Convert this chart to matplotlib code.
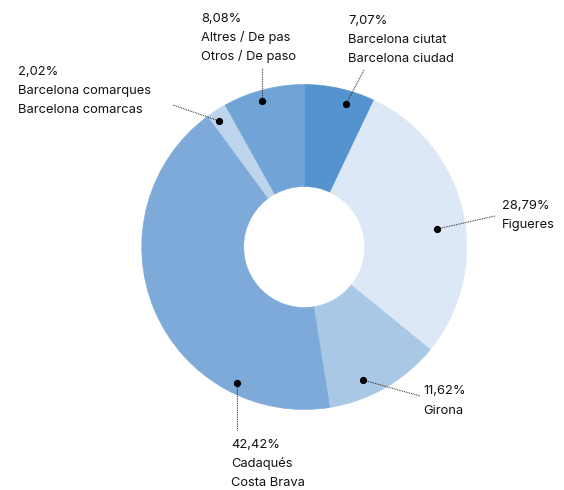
import matplotlib.pyplot as plt

# データ（時計回り、12時の位置から）
labels = ["Barcelona ciutat\nBarcelona ciudad", "Figueres", "Girona",
          "Cadaqués\nCosta Brava", "Barcelona comarques\nBarcelona comarcas",
          "Altres / De pas\nOtros / De paso"]
values = [7.07, 28.79, 11.62, 42.42, 2.02, 8.08]
colors = ["#5593cf", "#dce8f5", "#a9c8e6", "#7eaad9", "#bcd4ec", "#70a4d6"]

# レイアウト（ピクセル座標）: 点, 引き出し線の端, テキスト左端と1行目ベースライン
label_layout = [
    ((346, 104), (364, 70), (348, 23.5)),
    ((437, 229), (495, 216), (502, 208.5)),
    ((363, 380), (420, 396), (423, 394.5)),
    ((237, 383), (237, 430), (231, 447.5)),
    ((219, 121), (173, 105), (18, 74.5)),
    ((262, 101), (262, 68), (201, 21.5)),
]

W, H = 564, 490
CX, CY, R = 304.2, 247.0, 162.5
INNER = 60.5
LINE_STEP = 19.0


def px(x, y):
    """ピクセル座標をデータ座標に変換"""
    return (x - CX) / R, (CY - y) / R


plt.rcParams['font.family'] = ['Inter', 'DejaVu Sans']

fig = plt.figure(figsize=(W / 100, H / 100), dpi=100)
ax = fig.add_axes([0, 0, 1, 1])
ax.pie(values, colors=colors, startangle=90, counterclock=False, radius=1.0,
       wedgeprops=dict(width=1 - INNER / R, linewidth=0.4, antialiased=True))
for w, c in zip(ax.patches, colors):
    w.set_edgecolor(c)

ax.set_xlim(px(0, 0)[0], px(W, 0)[0])
ax.set_ylim(px(0, H)[1], px(0, 0)[1])
ax.set_aspect('equal')
ax.axis('off')

for v, lab, (dot, end, txt) in zip(values, labels, label_layout):
    dx, dy = px(*dot)
    ex, ey = px(*end)
    ax.plot([dx, ex], [dy, ey], color="#333333", lw=0.8, ls=(0, (0.8, 0.8)), zorder=3)
    ax.plot(dx, dy, 'o', color="black", ms=4.2, zorder=4)
    lines = [f"{v:.2f}%".replace('.', ',')] + lab.split('\n')
    for i, line in enumerate(lines):
        tx, ty = px(txt[0], txt[1] + i * LINE_STEP)
        ax.text(tx, ty, line, ha='left', va='baseline', fontsize=9.3,
                color="#141414")

fig.savefig("out.png", dpi=100)
